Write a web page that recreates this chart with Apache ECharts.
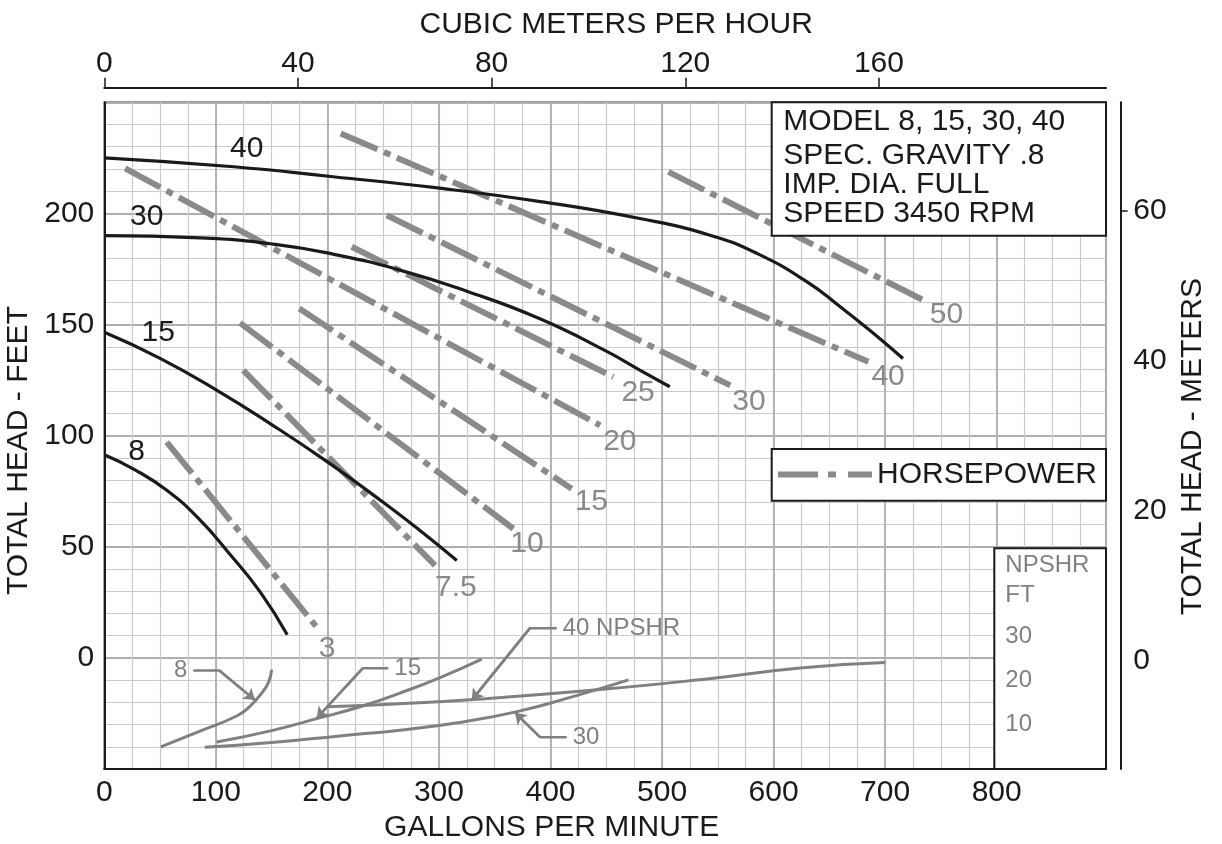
<!DOCTYPE html>
<html>
<head>
<meta charset="utf-8">
<script src="https://cdn.jsdelivr.net/npm/echarts@6.0.0/dist/echarts.min.js"></script>
<style>
html,body{margin:0;padding:0;background:#fff;}
#chart{width:1222px;height:844px;}
</style>
</head>
<body>
<div id="chart"></div>
<script>
// ---------- tick labels ----------
const gpmTicks = [0, 100, 200, 300, 400, 500, 600, 700, 800];
const m3hTicks = [0, 40, 80, 120, 160];
const meterTicks = [0, 20, 40, 60];
const meterTickMarks = [60];
const npshrTicks = [10, 20, 30];

// ---------- pump head curves (gpm, feet) ----------
const pumpNames = ['8', '15', '30', '40'];
const pump8  = [[0, 91.4], [28, 84.5], [56, 75.4], [84, 63], [112, 47], [140, 29.5], [164, 10.4]];
const pump15 = [[0, 146.5], [50, 134.8], [101, 120.4], [150, 105], [200, 88.2], [250, 70], [283, 57.3], [316, 43.8]];
const pump30 = [[0, 190], [86, 189], [151.5, 186.2], [205, 181.7], [265, 174.5], [325, 165], [391, 152.5], [450, 138], [480, 129.5], [507, 122]];
const pump40 = [[0, 225], [116, 221], [205, 216.5], [295, 211.7], [391, 205.3], [480, 197.7], [543, 190.2], [585, 182], [630, 169.2], [660, 157.9], [690, 145.9], [716, 134.7]];

// ---------- horsepower lines (gpm, feet) ----------
const hpNames = ['3', '7.5', '10', '15', '20', '25', '30', '40', '50'];
const hp3   = [[56, 97.1], [190.5, 13.8]];
const hp7_5 = [[124.6, 129.4], [296.5, 41.6]];
const hp10  = [[121.7, 150.7], [366.7, 58.1]];
const hp15  = [[174.8, 157.2], [419, 76.1]];
const hp20  = [[18.7, 220.3], [444.5, 104.6]];
const hp25  = [[221.8, 185], [456.4, 126.4]];
const hp30  = [[253.2, 199.2], [561.2, 122.6]];
const hp40  = [[212, 236], [685, 133.2]];
const hp50  = [[505.7, 218.7], [737.4, 160.2]];

// ---------- NPSHR curves (gpm, NPSHR feet) ----------
const npshrNames = ['8', '15', '30', '40'];
const npshr8  = [[50.6, 5.0], [85.8, 8.6], [118.7, 12.0], [130.6, 14.2], [141.1, 17.2], [147, 19.5], [150.1, 22.5]];
const npshr15 = [[100.8, 6.1], [150, 8.7], [190.4, 11.4], [229.3, 14.1], [265, 17.2], [300, 20.6], [338.4, 24.9]];
const npshr30 = [[90, 4.9], [150, 6.0], [211, 7.5], [265, 8.8], [320, 10.6], [370, 13.0], [420, 16.4], [470, 20.2]];
const npshr40 = [[199.5, 14.1], [265, 14.8], [328, 15.7], [444.5, 18.0], [540, 20.4], [623.8, 22.9], [700, 24.1]];

// ---------- NPSHR leader callouts (gpm, NPSHR feet): label end, corner, arrow tip ----------
const leaderNames = ['8', '15', '40 NPSHR', '30'];
const leader8  = [[79.8, 22.3], [103.1, 22.3], [135.1, 15.6]];
const leader15 = [[254.6, 22.8], [231.6, 22.8], [190.4, 11.5]];
const leader40 = [[405.6, 31.9], [381.6, 31.9], [329.4, 15.6]];
const leader30 = [[414.5, 7.2], [390.6, 7.2], [368.2, 12.75]];

// ---------- styling / layout (not data) ----------
const FONT = "'Liberation Sans', Arial, Helvetica, sans-serif";
const INK = '#1a1a1a';
const HPC = '#8a8a8a';
const NPC = '#808080';
const GL = 104.3, GT = 102.3, GR = 1106, GB = 769;
const curveLabelAnchors = {'8': [29, 92.8], '15': [48.4, 146.1], '30': [38, 198.5], '40': [127.7, 228.9]};
const hpLabelOffsets = [[2, 22], [0, 22], [-3, 15], [3, 12.5], [3, 16], [8, 16], [2, 16], [3, 15], [3, 13]];
const leaderLabelStyle = [{align: 'right', offset: [-6, 0]}, {align: 'left', offset: [6, 0]}, {align: 'left', offset: [6, 0]}, {align: 'left', offset: [6, 0]}];

const pumpData = [pump8, pump15, pump30, pump40];
const hpData = [hp3, hp7_5, hp10, hp15, hp20, hp25, hp30, hp40, hp50];
const npshrData = [npshr8, npshr15, npshr30, npshr40];
const leaderData = [leader8, leader15, leader40, leader30];

const series = [];

npshrData.forEach((d, i) => {
  series.push({
    type: 'line', name: 'NPSHR ' + npshrNames[i], xAxisIndex: 1, yAxisIndex: 3,
    data: d, smooth: 0.5, showSymbol: false, symbol: 'none', silent: true, z: 3,
    lineStyle: {color: NPC, width: 3}
  });
});

leaderData.forEach((d, i) => {
  series.push({
    type: 'line', name: 'callout ' + leaderNames[i], xAxisIndex: 1, yAxisIndex: 3,
    data: d, showSymbol: false, symbol: 'none', silent: true, z: 3,
    lineStyle: {color: NPC, width: 2.5},
    markLine: {
      silent: true, animation: false,
      symbol: ['none', 'arrow'], symbolSize: 11,
      lineStyle: {color: NPC, width: 2.5, type: 'solid'},
      itemStyle: {color: NPC},
      label: {show: false},
      emphasis: {disabled: true},
      data: [[{coord: d[1]}, {coord: d[2]}]]
    },
    markPoint: {
      silent: true, animation: false, symbol: 'circle', symbolSize: 0,
      itemStyle: {color: 'rgba(0,0,0,0)'},
      data: [{coord: d[0]}],
      label: {show: true, position: 'inside', align: leaderLabelStyle[i].align, verticalAlign: 'middle',
        offset: leaderLabelStyle[i].offset, formatter: leaderNames[i], fontSize: 24, color: NPC, fontFamily: FONT}
    }
  });
});

hpData.forEach((d, i) => {
  series.push({
    type: 'line', name: hpNames[i] + ' HP', xAxisIndex: 1, yAxisIndex: 1,
    data: d, showSymbol: false, symbol: 'none', silent: true, z: 4,
    lineStyle: {color: HPC, width: 6, type: [40, 7, 7, 7], cap: 'butt'},
    markPoint: {
      silent: true, animation: false, symbol: 'circle', symbolSize: 0,
      itemStyle: {color: 'rgba(0,0,0,0)'},
      data: [{coord: d[d.length - 1]}],
      label: {show: true, position: 'inside', align: 'left', verticalAlign: 'middle',
        offset: hpLabelOffsets[i], formatter: hpNames[i], fontSize: 30, color: HPC, fontFamily: FONT}
    }
  });
});

pumpData.forEach((d, i) => {
  const n = pumpNames[i];
  series.push({
    type: 'line', name: 'Model ' + n, xAxisIndex: 1, yAxisIndex: 1,
    data: d, smooth: 0.5, showSymbol: false, symbol: 'none', silent: true, z: 6,
    lineStyle: {color: INK, width: 3.2},
    markPoint: {
      silent: true, animation: false, symbol: 'circle', symbolSize: 0,
      itemStyle: {color: 'rgba(0,0,0,0)'},
      data: [{coord: curveLabelAnchors[n]}],
      label: {show: true, position: 'inside', verticalAlign: 'middle', formatter: n,
        fontSize: 30, color: INK, fontFamily: FONT}
    }
  });
});

function gtext(x, y, text, size, color) {
  return {
    type: 'text', z: 101, x: x, y: y, silent: true,
    style: {text: text, fill: color, font: size + 'px ' + FONT,
      textAlign: 'left', align: 'left', textVerticalAlign: 'middle', verticalAlign: 'middle'}
  };
}

const option = {
  animation: false,
  backgroundColor: '#ffffff',
  textStyle: {fontFamily: FONT},
  grid: {left: GL, top: GT, right: 1222 - GR, bottom: 844 - GB, show: true,
    containLabel: false, outerBoundsMode: 'none',
    borderColor: '#333', borderWidth: 1.5, backgroundColor: 'rgba(0,0,0,0)'},
  xAxis: [
    { // minor grid, every 25 gpm
      type: 'value', position: 'bottom', min: 0, max: 898, interval: 25,
      axisLine: {show: false, onZero: false}, axisTick: {show: false}, axisLabel: {show: false},
      splitLine: {show: true, lineStyle: {color: '#cbcbcb', width: 1.2}}
    },
    { // gallons per minute
      type: 'value', position: 'bottom', min: 0, max: 898, interval: 100,
      name: 'GALLONS PER MINUTE', nameLocation: 'middle', nameGap: 43,
      nameTextStyle: {fontSize: 30, color: INK, fontFamily: FONT, padding: [0, 107, 0, 0]},
      axisLine: {show: true, onZero: false, lineStyle: {color: INK, width: 2}},
      axisTick: {show: false},
      axisLabel: {fontSize: 30, color: INK, fontFamily: FONT, margin: 9, showMaxLabel: false,
        formatter: v => gpmTicks.indexOf(v) >= 0 ? String(v) : ''},
      splitLine: {show: true, lineStyle: {color: '#aeaeae', width: 1.8}}
    },
    { // cubic meters per hour
      type: 'value', position: 'top', offset: 14.6, min: 0, max: 206.9,
      name: 'CUBIC METERS PER HOUR', nameLocation: 'middle', nameGap: 48,
      nameTextStyle: {fontSize: 30, color: INK, fontFamily: FONT, padding: [0, 0, 0, 22]},
      axisLine: {show: true, onZero: false, lineStyle: {color: INK, width: 2}},
      axisTick: {show: true, customValues: m3hTicks, length: 10, lineStyle: {color: INK, width: 1.5}},
      axisLabel: {customValues: m3hTicks, fontSize: 30, color: INK, fontFamily: FONT, margin: 9},
      splitLine: {show: false}
    }
  ],
  yAxis: [
    { // minor grid every 10 ft
      type: 'value', position: 'left', min: -50, max: 250, interval: 10,
      axisLine: {show: false, onZero: false}, axisTick: {show: false}, axisLabel: {show: false},
      splitLine: {show: true, lineStyle: {color: '#cbcbcb', width: 1.2}}
    },
    { // feet
      type: 'value', position: 'left', min: -50, max: 250, interval: 50,
      name: 'TOTAL HEAD - FEET', nameLocation: 'middle', nameRotate: 90, nameGap: 56,
      nameTextStyle: {fontSize: 30, color: INK, fontFamily: FONT, padding: [0, 30, 0, 0]},
      axisLine: {show: true, onZero: false, lineStyle: {color: INK, width: 2}},
      axisTick: {show: false},
      axisLabel: {fontSize: 30, color: INK, fontFamily: FONT, margin: 10, showMinLabel: false, showMaxLabel: false},
      splitLine: {show: true, lineStyle: {color: '#aeaeae', width: 1.8}}
    },
    { // meters
      type: 'value', position: 'right', offset: 14.7, min: -14.46, max: 74.4,
      name: 'TOTAL HEAD - METERS', nameLocation: 'middle', nameRotate: 90, nameGap: 53,
      nameTextStyle: {fontSize: 30, color: INK, fontFamily: FONT, padding: [0, 22, 0, 0]},
      axisLine: {show: true, onZero: false, lineStyle: {color: INK, width: 2}},
      axisTick: {show: true, customValues: meterTickMarks, length: 7, lineStyle: {color: INK, width: 1.5}},
      axisLabel: {customValues: meterTicks, fontSize: 30, color: INK, fontFamily: FONT, margin: 12.6},
      splitLine: {show: false}
    },
    { // NPSHR feet scale inside the box
      type: 'value', position: 'right', offset: -100.7, min: 0, max: 151, z: 200,
      axisLine: {show: false, onZero: false}, axisTick: {show: false},
      axisLabel: {customValues: npshrTicks, fontSize: 24, color: NPC, fontFamily: FONT, margin: 0},
      splitLine: {show: false}
    }
  ],
  graphic: {
    elements: [
      {type: 'rect', z: 100, silent: true, shape: {x: 771.7, y: 102.3, width: 334.3, height: 133.4},
        style: {fill: '#fff', stroke: INK, lineWidth: 2}},
      gtext(783.3, 121.7, 'MODEL 8, 15, 30, 40', 30, INK),
      gtext(783.3, 155.8, 'SPEC. GRAVITY .8', 30, INK),
      gtext(783.3, 184.5, 'IMP. DIA. FULL', 30, INK),
      gtext(783.3, 214.2, 'SPEED 3450 RPM', 30, INK),
      {type: 'rect', z: 100, silent: true, shape: {x: 771.7, y: 449, width: 334.3, height: 51.7},
        style: {fill: '#fff', stroke: INK, lineWidth: 2}},
      {type: 'line', z: 101, silent: true, shape: {x1: 778, y1: 474.5, x2: 872, y2: 474.5},
        style: {stroke: HPC, lineWidth: 6, lineDash: [40, 10, 8, 12], lineCap: 'butt'}},
      gtext(877, 474.5, 'HORSEPOWER', 30, INK),
      {type: 'rect', z: 100, silent: true, shape: {x: 994.3, y: 548.3, width: 111.7, height: 220.7},
        style: {fill: '#fff', stroke: INK, lineWidth: 2}},
      gtext(1005.3, 565.7, 'NPSHR', 24, NPC),
      gtext(1005.3, 595, 'FT', 24, NPC)
    ]
  },
  series: series
};

const chart = echarts.init(document.getElementById('chart'), null, {renderer: 'canvas', width: 1222, height: 844});
chart.setOption(option);
</script>
</body>
</html>
